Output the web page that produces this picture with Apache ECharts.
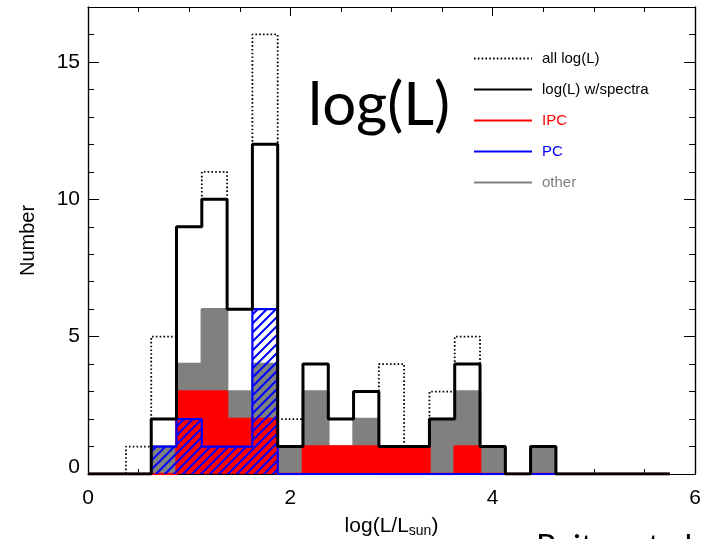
<!DOCTYPE html>
<html>
<head>
<meta charset="utf-8">
<script src="https://cdn.jsdelivr.net/npm/echarts@6/dist/echarts.min.js"></script>
<style>
  html, body { margin: 0; padding: 0; background: #fff; }
  #chart { width: 707px; height: 539px; }
</style>
</head>
<body>
<div id="chart"></div>
<script>
// histogram bins (centres, width 0.25 in log L/Lsun)
var binWidth = 0.25;
var binCenters = [0.5, 0.75, 1.0, 1.25, 1.5, 1.75, 2.0, 2.25, 2.5, 2.75, 3.0, 3.25, 3.5, 3.75, 4.0, 4.25, 4.5];
var allLogL   = [1, 5, 9, 11, 6, 16, 2, 4, 2, 3, 4, 1, 3, 5, 1, 0, 1];
var withSpec  = [0, 2, 9, 10, 6, 12, 1, 4, 2, 3, 1, 1, 2, 4, 1, 0, 1];
var ipcCounts = [0, 0, 3, 3, 2, 2, 0, 1, 1, 1, 1, 1, 0, 1, 0, 0, 0];
var pcCounts  = [0, 1, 2, 1, 1, 6, 0, 0, 0, 0, 0, 0, 0, 0, 0, 0, 0];
var otherCounts = [0, 1, 4, 6, 3, 4, 1, 3, 1, 2, 0, 0, 2, 3, 1, 0, 1];
var histStart = 0, histEnd = 5.75;
var yTicks = [0, 5, 10, 15];

// step outline built from the bins
function stepLine(vals) {
  var pts = [[histStart, 0], [binCenters[0] - binWidth / 2, 0]];
  binCenters.forEach(function (c, i) {
    pts.push([c - binWidth / 2, vals[i]]);
    pts.push([c + binWidth / 2, vals[i]]);
  });
  pts.push([binCenters[binCenters.length - 1] + binWidth / 2, 0]);
  pts.push([histEnd, 0]);
  return pts;
}
function barData(vals) {
  return binCenters.map(function (c, i) { return [c, vals[i]]; });
}

// blue diagonal hatch
var hatch = document.createElement('canvas');
hatch.width = 9; hatch.height = 9;
var hc = hatch.getContext('2d');
hc.strokeStyle = '#0000ff';
hc.lineWidth = 2;
hc.beginPath();
hc.moveTo(-1, 10); hc.lineTo(10, -1);
hc.moveTo(-5.5, 5.5); hc.lineTo(5.5, -5.5);
hc.moveTo(3.5, 14.5); hc.lineTo(14.5, 3.5);
hc.stroke();

function rectRender(fill) {
  return function (params, api) {
    var c = api.value(0), v = api.value(1);
    if (!v) return;
    var p0 = api.coord([c - binWidth / 2, v]);
    var p1 = api.coord([c + binWidth / 2, 0]);
    var x0 = Math.round(p0[0]), x1 = Math.round(p1[0]);
    var y0 = Math.round(p0[1]), y1 = Math.round(p1[1]);
    return {
      type: 'rect',
      shape: { x: x0, y: y0, width: x1 - x0, height: y1 - y0 },
      style: { fill: fill, stroke: null }
    };
  };
}

var font = 'Liberation Sans';
var chart = echarts.init(document.getElementById('chart'));

function xAx(pos, labels) {
  return {
    type: 'value', position: pos, min: 0, max: 6, interval: 2,
    axisLine: { show: true, onZero: false, lineStyle: { color: '#000', width: 1.2 } },
    axisTick: { show: true, inside: true, length: 9, lineStyle: { color: '#000' } },
    minorTick: { show: true, splitNumber: 4, length: 5, lineStyle: { color: '#000' } },
    splitLine: { show: false },
    axisLabel: { show: labels, margin: 14, color: '#000', fontSize: 21, fontFamily: font },
    name: labels ? '{a|log(L/L}{s|sun}{a|)}' : '',
    nameLocation: 'middle', nameGap: 41,
    nameTextStyle: {
      rich: {
        a: { fontSize: 21, fontFamily: font, color: '#000' },
        s: { fontSize: 14, fontFamily: font, color: '#000', verticalAlign: 'bottom', padding: [9, 0, 0, 0] }
      }
    }
  };
}
function yAx(pos, major, labels) {
  return {
    type: 'value', position: pos, offset: 0, min: 0, max: 17, interval: major ? 5 : 1,
    axisLine: { show: true, onZero: false, lineStyle: { color: '#000', width: 1.2 } },
    axisTick: { show: true, inside: true, length: major ? 11 : 6, lineStyle: { color: '#000' } },
    splitLine: { show: false },
    axisLabel: {
      show: labels, margin: 8, color: '#000', fontSize: 21, fontFamily: font,
      formatter: function (v) {
        if (yTicks.indexOf(v) < 0) return '';
        return v === 0 ? '{z|0}' : String(v);
      },
      rich: { z: { fontSize: 21, fontFamily: font, color: '#000', padding: [0, 0, 14, 0] } }
    },
    name: labels ? 'Number' : '',
    nameLocation: 'middle', nameGap: 50,
    nameTextStyle: { fontSize: 20, fontFamily: font, color: '#000' }
  };
}

chart.setOption({
  animation: false,
  backgroundColor: '#fff',
  grid: { left: 88, right: 12, top: 7, bottom: 65, outerBoundsMode: 'none', containLabel: false },
  xAxis: [xAx('bottom', true), xAx('top', false)],
  yAxis: [yAx('left', true, true), yAx('left', false, false), yAx('right', true, false), yAx('right', false, false)],
  legend: {
    orient: 'vertical', left: 468, top: 46,
    itemWidth: 58, itemHeight: 14, itemGap: 16,
    itemStyle: { opacity: 0 },
    textStyle: { fontSize: 15, fontFamily: font, padding: [0, 0, 0, 5] },
    data: [
      { name: 'all log(L)', textStyle: { color: '#000' } },
      { name: 'log(L) w/spectra', textStyle: { color: '#000' } },
      { name: 'IPC', textStyle: { color: '#ff0000' } },
      { name: 'PC', textStyle: { color: '#0000ff' } },
      { name: 'other', textStyle: { color: '#808080' } }
    ]
  },
  graphic: [
    { type: 'text', left: 308, top: 76, z: 100,
      style: { text: 'log(L)', font: '60px Lato', fill: '#000' } },
    { type: 'text', left: 536, top: 531, z: 100,
      style: { text: 'Reiter et al', font: '33px Lato', fill: '#000' } }
  ],
  series: [
    { name: 'other fill', type: 'custom', renderItem: rectRender('#808080'), data: barData(otherCounts), z: 1, silent: true },
    { name: 'other', type: 'line', data: stepLine(otherCounts), symbol: 'none', z: 1,
      color: '#808080', lineStyle: { color: '#808080', width: 2.5 } },
    { name: 'IPC fill', type: 'custom', renderItem: rectRender('#ff0000'), data: barData(ipcCounts), z: 2, silent: true },
    { name: 'IPC', type: 'line', data: stepLine(ipcCounts), symbol: 'none', z: 2,
      color: '#ff0000', lineStyle: { color: '#ff0000', width: 2.5 } },
    { name: 'PC fill', type: 'custom', renderItem: rectRender({ image: hatch, repeat: 'repeat' }), data: barData(pcCounts), z: 3, silent: true },
    { name: 'PC', type: 'line', data: stepLine(pcCounts), symbol: 'none', z: 4,
      color: '#0000ff', lineStyle: { color: '#0000ff', width: 2.2 } },
    { name: 'all log(L)', type: 'line', data: stepLine(allLogL), symbol: 'none', z: 5,
      color: '#000', lineStyle: { color: '#000', width: 1.8, type: [1.6, 2.2] } },
    { name: 'log(L) w/spectra', type: 'line', data: stepLine(withSpec), symbol: 'none', z: 6,
      color: '#000', lineStyle: { color: '#000', width: 3 } }
  ]
});
</script>
</body>
</html>
